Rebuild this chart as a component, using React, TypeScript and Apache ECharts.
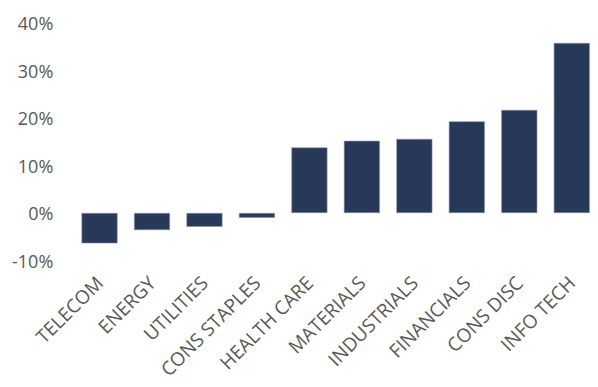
import React, { useEffect, useRef } from "react";
import * as echarts from "echarts";

const categories = ["TELECOM", "ENERGY", "UTILITIES", "CONS STAPLES", "HEALTH CARE", "MATERIALS", "INDUSTRIALS", "FINANCIALS", "CONS DISC", "INFO TECH"];
const values = [-6.4, -3.6, -2.9, -1.0, 13.8, 15.2, 15.6, 19.3, 21.7, 35.8];
const yTicks = [-10, 0, 10, 20, 30, 40];

export default function App() {
  const ref = useRef<HTMLDivElement>(null);
  useEffect(() => {
    const chart = echarts.init(ref.current!, null, { renderer: "svg" });
    chart.setOption({
      animation: false,
      grid: { left: 73.3, right: -8.7, top: 23, bottom: 126.5, containLabel: false },
      xAxis: {
        type: "category",
        data: categories,
        axisLine: { show: false },
        axisTick: { show: false },
        axisLabel: {
          rotate: 45,
          interval: 0,
          margin: 19,
          color: "#595959",
          fontFamily: "Open Sans",
          fontSize: 19,
        },
      },
      yAxis: {
        type: "value",
        min: yTicks[0],
        max: yTicks[yTicks.length - 1],
        interval: 10,
        splitLine: { show: false },
        axisLine: { show: false },
        axisTick: { show: false },
        axisLabel: {
          formatter: "{value}%",
          color: "#595959",
          fontFamily: "Open Sans",
          fontSize: 18,
          margin: 20,
        },
      },
      series: [
        {
          type: "bar",
          data: values,
          barWidth: 36,
          itemStyle: { color: "#283858", borderColor: "#8d96aa", borderWidth: 0.6 },
        },
      ],
    });
    return () => chart.dispose();
  }, []);
  return <div ref={ref} style={{ width: 598, height: 387, position: "absolute", left: 0, top: 0 }} />;
}
